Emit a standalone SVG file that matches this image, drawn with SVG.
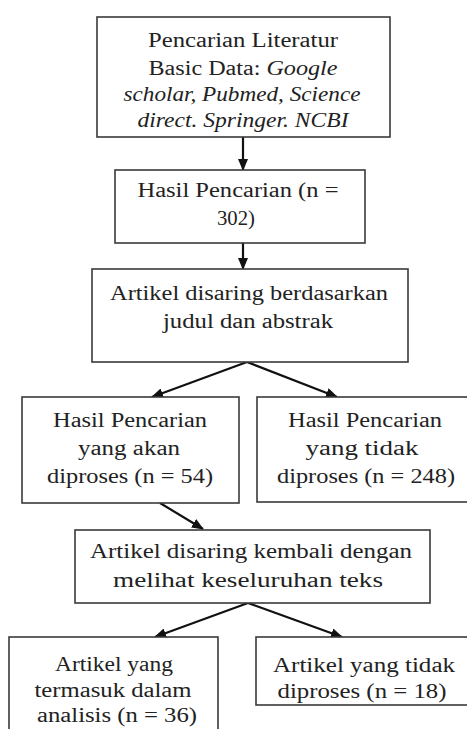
<svg xmlns="http://www.w3.org/2000/svg" width="467" height="729" viewBox="0 0 467 729">
<style>
.box{fill:#fff;stroke:#3a3a3a;stroke-width:1.6}
.t{font-size:20px;fill:#222;text-anchor:middle}
.i{font-style:italic}
.c{stroke:#111;stroke-width:2.2;fill:none;marker-end:url(#ah)}
</style>
<defs>
<marker id="ah" markerUnits="userSpaceOnUse" markerWidth="12" markerHeight="10" refX="11" refY="5" orient="auto">
<path d="M0,0 L12,5 L0,10 Z" fill="#111"/>
</marker>
</defs>
<rect width="467" height="729" fill="#fff"/>
<g id="connectors">
<line class="c" x1="243" y1="137" x2="243" y2="170"/>
<line class="c" x1="243" y1="243" x2="243" y2="269"/>
<line class="c" x1="247" y1="362" x2="152" y2="397"/>
<line class="c" x1="247" y1="362" x2="337" y2="397"/>
<line class="c" x1="160" y1="503" x2="203" y2="529"/>
<line class="c" x1="248" y1="603" x2="155" y2="637"/>
<line class="c" x1="248" y1="603" x2="342" y2="637"/>
</g>
<g font-family="Liberation Serif, Tinos, DejaVu Serif, serif">
<g id="n1">
<rect class="box" x="97" y="17" width="293" height="120"/>
<text class="t" x="243" y="47" textLength="190" lengthAdjust="spacingAndGlyphs">Pencarian Literatur</text>
<text class="t" x="243" y="75" textLength="189" lengthAdjust="spacingAndGlyphs">Basic Data: <tspan class="i">Google</tspan></text>
<text class="t i" x="242" y="101" textLength="237" lengthAdjust="spacingAndGlyphs">scholar, Pubmed, Science</text>
<text class="t i" x="243" y="127" textLength="211" lengthAdjust="spacingAndGlyphs">direct. Springer. NCBI</text>
</g>
<g id="n2">
<rect class="box" x="115" y="170" width="250" height="73"/>
<text class="t" x="238" y="197" textLength="201" lengthAdjust="spacingAndGlyphs">Hasil Pencarian (n =</text>
<text class="t" x="236" y="225" textLength="38" lengthAdjust="spacingAndGlyphs">302)</text>
</g>
<g id="n3">
<rect class="box" x="92" y="269" width="316" height="93"/>
<text class="t" x="249" y="300" textLength="278" lengthAdjust="spacingAndGlyphs">Artikel disaring berdasarkan</text>
<text class="t" x="248" y="328" textLength="170" lengthAdjust="spacingAndGlyphs">judul dan abstrak</text>
</g>
<g id="n4">
<rect class="box" x="22" y="397" width="217" height="106"/>
<text class="t" x="130" y="427" textLength="154" lengthAdjust="spacingAndGlyphs">Hasil Pencarian</text>
<text class="t" x="129" y="455" textLength="102" lengthAdjust="spacingAndGlyphs">yang akan</text>
<text class="t" x="130" y="483" textLength="166" lengthAdjust="spacingAndGlyphs">diproses (n = 54)</text>
</g>
<g id="n5">
<rect class="box" x="257" y="397" width="215" height="105"/>
<text class="t" x="365" y="427" textLength="154" lengthAdjust="spacingAndGlyphs">Hasil Pencarian</text>
<text class="t" x="362" y="455" textLength="113" lengthAdjust="spacingAndGlyphs">yang tidak</text>
<text class="t" x="366" y="483" textLength="178" lengthAdjust="spacingAndGlyphs">diproses (n = 248)</text>
</g>
<g id="n6">
<rect class="box" x="75" y="530" width="355" height="73"/>
<text class="t" x="251" y="558" textLength="322" lengthAdjust="spacingAndGlyphs">Artikel disaring kembali dengan</text>
<text class="t" x="248" y="587" textLength="270" lengthAdjust="spacingAndGlyphs">melihat keseluruhan teks</text>
</g>
<g id="n7">
<rect class="box" x="9" y="637" width="209" height="100"/>
<text class="t" x="114" y="671" textLength="118" lengthAdjust="spacingAndGlyphs">Artikel yang</text>
<text class="t" x="113" y="697" textLength="157" lengthAdjust="spacingAndGlyphs">termasuk dalam</text>
<text class="t" x="117" y="722" textLength="160" lengthAdjust="spacingAndGlyphs">analisis (n = 36)</text>
</g>
<g id="n8">
<rect class="box" x="256" y="637" width="216" height="68"/>
<text class="t" x="364" y="672" textLength="182" lengthAdjust="spacingAndGlyphs">Artikel yang tidak</text>
<text class="t" x="362" y="698" textLength="169" lengthAdjust="spacingAndGlyphs">diproses (n = 18)</text>
</g>
</g>
</svg>
